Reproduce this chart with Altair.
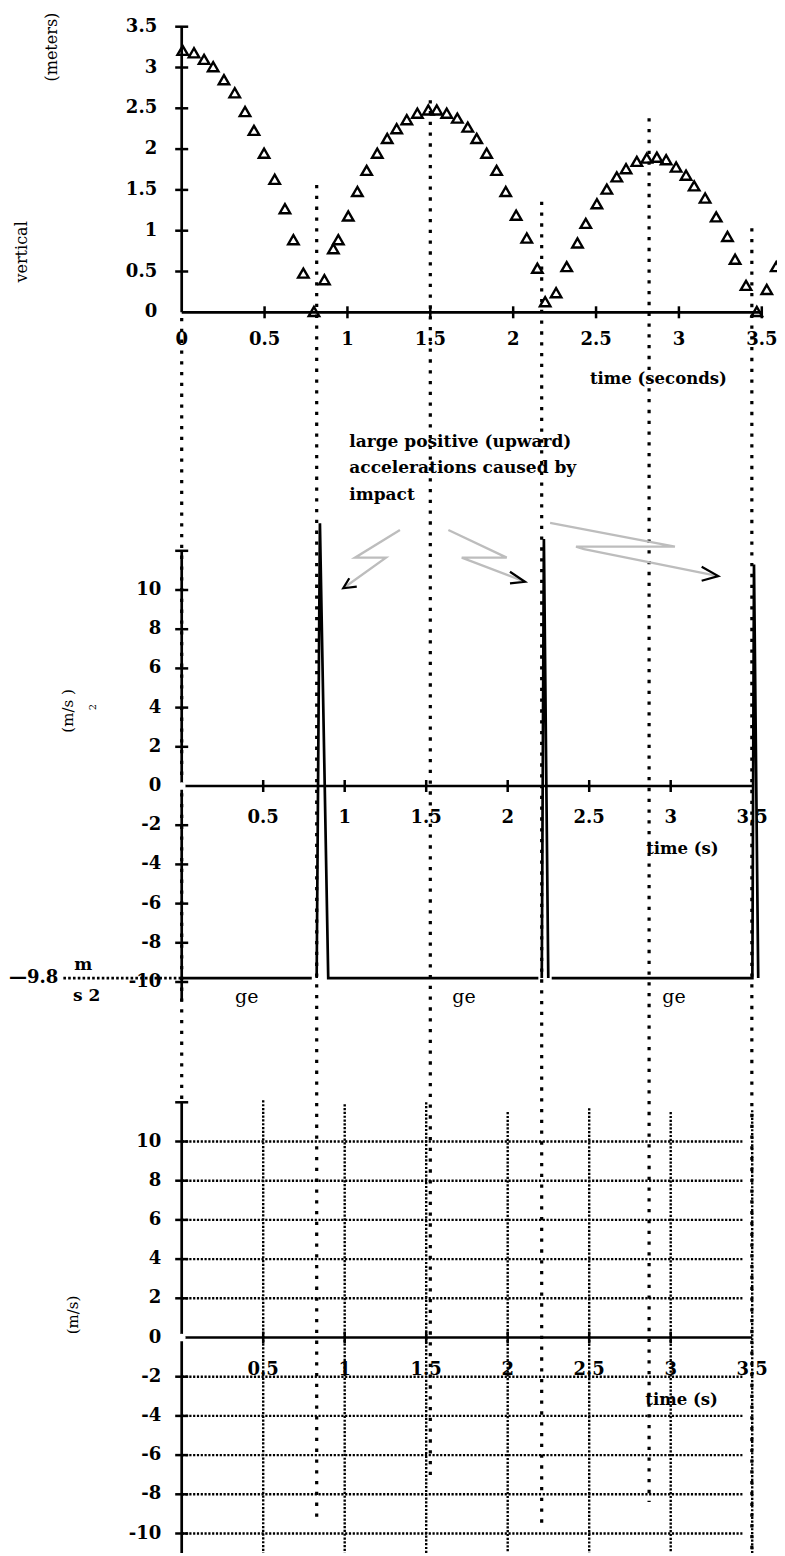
import altair as alt
import pandas as pd

# ---------------- data ----------------
# top graph: height of the ball (m) against time (s)
pos_t = [0.006, 0.074, 0.135, 0.19, 0.255, 0.32, 0.382, 0.436, 0.497, 0.561, 0.623, 0.674, 0.734, 0.798,
         0.861, 0.915, 0.945, 1.005, 1.06, 1.116, 1.18, 1.24, 1.297, 1.358, 1.422, 1.488, 1.539, 1.599,
         1.663, 1.726, 1.78, 1.84, 1.90, 1.955, 2.018, 2.082, 2.146, 2.193,
         2.259, 2.323, 2.388, 2.438, 2.505, 2.565, 2.625, 2.681, 2.746, 2.806, 2.867, 2.923, 2.983,
         3.043, 3.092, 3.158, 3.225, 3.293, 3.339, 3.405, 3.47, 3.53, 3.587, 3.641]
pos_h = [3.21, 3.18, 3.10, 3.01, 2.85, 2.69, 2.46, 2.23, 1.95, 1.63, 1.27, 0.89, 0.48, 0.01,
         0.40, 0.78, 0.89, 1.18, 1.48, 1.74, 1.95, 2.13, 2.25, 2.36, 2.44, 2.48, 2.48, 2.44,
         2.38, 2.27, 2.13, 1.95, 1.74, 1.48, 1.19, 0.91, 0.54, 0.13,
         0.24, 0.56, 0.85, 1.09, 1.33, 1.51, 1.66, 1.76, 1.85, 1.89, 1.90, 1.87, 1.78,
         1.68, 1.55, 1.40, 1.17, 0.93, 0.65, 0.33, 0.01, 0.28, 0.56, 0.78]

# middle graph: acceleration (m/s^2) against time (s), drawn as segments
acc_seg = [0, 0, 1, 1, 1, 1, 2, 2, 2, 3, 3, 3, 3]
acc_t = [0.0, 0.798, 0.828, 0.848, 0.899, 2.188, 2.209, 2.222, 2.249, 2.270, 3.501, 3.511, 3.537]
acc_a = [-9.8, -9.8, -9.8, 13.4, -9.8, -9.8, -9.8, 12.6, -9.8, -9.8, -9.8, 11.3, -9.8]

# dotted marker lines at impacts / apexes (top graph time, metres on top graph scale)
mark_t = [0.0, 0.8145, 1.500, 2.172, 2.820, 3.440]
mark_top = [-0.07, 1.56, 2.60, 1.355, 2.378, 1.03]
mark_bot = [-9.70, -14.82, -14.33, -14.86, -14.58, -15.20]

# axes / ticks / labels
top_tick_x = [0.5, 1, 1.5, 2, 2.5, 3, 3.5]
top_tick_y = [0.5, 1, 1.5, 2, 2.5, 3, 3.5]
top_lab_x_v = [0, 0.5, 1, 1.5, 2, 2.5, 3, 3.5]
top_lab_x = ["0", "0.5", "1", "1.5", "2", "2.5", "3", "3.5"]
top_lab_y_v = [0, 0.5, 1, 1.5, 2, 2.5, 3, 3.5]
top_lab_y = ["0", "0.5", "1", "1.5", "2", "2.5", "3", "3.5"]
top_axis_x = [0, 3.5]
top_axis_y = [0, 3.5]

ms_tick_x = [0.5, 1, 1.5, 2, 2.5, 3]
ms_tick_y = [12, 10, 8, 6, 4, 2, -2, -4, -6, -8, -10]
ms_lab_x_v = [0.5, 1, 1.5, 2, 2.5, 3, 3.5]
ms_lab_x = ["0.5", "1", "1.5", "2", "2.5", "3", "3.5"]
ms_lab_y_v = [10, 8, 6, 4, 2, 0, -2, -4, -6, -8, -10]
ms_lab_y = ["10", "8", "6", "4", "2", "0", "-2", "-4", "-6", "-8", "-10"]
ms_axis_x = [0, 3.5]
ms_axis_y = [-11, 12]

# bottom graph grid
grid_h_v = [10, 8, 6, 4, 2, -2, -4, -6, -8, -10]
grid_h_end = 3.44
grid_v_t = [0.5, 1, 1.5, 2, 2.5, 3, 3.5]
grid_v_top = [12.1, 11.9, 12.0, 11.5, 11.7, 11.5, 11.6]
grid_v_bot = -11

# annotation arrows (middle graph units)
arr_id = [1, 1, 1, 1, 2, 2, 2, 2, 3, 3, 3, 3, 3]
arr_t = [1.339, 1.063, 1.253, 0.991, 1.636, 1.994, 1.718, 2.106, 2.260, 3.026, 2.419, 2.468, 3.292]
arr_a = [13.06, 11.65, 11.65, 10.09, 13.06, 11.65, 11.65, 10.42, 13.43, 12.21, 12.21, 12.08, 10.71]
head_id = [1, 1, 1, 2, 2, 2, 3, 3, 3]
head_t = [1.028, 0.991, 1.074, 2.014, 2.106, 2.014, 3.190, 3.292, 3.190]
head_a = [10.60, 10.09, 10.17, 10.93, 10.42, 10.34, 11.19, 10.71, 10.47]

note_lines = ["large positive (upward)", "accelerations caused by", "impact"]
note_a = [17.57, 16.21, 14.85]
note_t = 1.028

ge_t = [0.399, 1.732, 3.020]
ge_a = -10.75

# ---------------- layout (page pixel anchors -> scale domains) ----------------
W, H = 769, 1548
FONT = "DejaVu Serif"


def xdom(px0, s):
    d0 = -(px0 - 8) / s
    return [d0, d0 + W / s]


def ydom(py0, s):
    d1 = (py0 - 8) / s
    return [d1 - H / s, d1]


TX, TY = xdom(181.7, 165.74), ydom(312.3, 81.6)
MX, MY = xdom(181.7, 163.0), ydom(786.0, 19.6)
BX, BY = xdom(181.7, 163.0), ydom(1337.5, 19.6)


def X(f, d):
    return alt.X(f, type="quantitative", scale=alt.Scale(domain=d, nice=False, zero=False), axis=None)


def Y(f, d):
    return alt.Y(f, type="quantitative", scale=alt.Scale(domain=d, nice=False, zero=False), axis=None)


EV_DASH = [3.3, 7.5]
GRID_DASH = [2.2, 1.6]
LAB_SIZE = 18


def axes(xd, yd, ax_x, ax_y, tick_x, tick_y, lab_x_v, lab_x, lab_y_v, lab_y, ydx, xdy):
    hx = pd.DataFrame({"t0": [ax_x[0]], "t1": [ax_x[1]], "v": [0]})
    vy = pd.DataFrame({"t": [0], "v0": [ax_y[0]], "v1": [ax_y[1]]})
    lines = [
        alt.Chart(hx).mark_rule(color="black", strokeWidth=2.7).encode(
            x=X("t0", xd), x2="t1", y=Y("v", yd)),
        alt.Chart(vy).mark_rule(color="black", strokeWidth=2.7).encode(
            x=X("t", xd), y=Y("v0", yd), y2="v1"),
        alt.Chart(pd.DataFrame({"t": tick_x, "v": [0] * len(tick_x)})).mark_tick(
            orient="vertical", size=12, thickness=2.5, color="black", opacity=1).encode(
            x=X("t", xd), y=Y("v", yd)),
        alt.Chart(pd.DataFrame({"t": [0] * len(tick_y), "v": tick_y})).mark_tick(
            orient="horizontal", size=13, thickness=2.5, color="black", opacity=1).encode(
            x=X("t", xd), y=Y("v", yd)),
        alt.Chart(pd.DataFrame({"t": [0] * len(lab_y_v), "v": lab_y_v, "lab": lab_y})).mark_text(
            align="right", baseline="middle", dx=ydx, font=FONT, fontWeight="bold", fontSize=LAB_SIZE,
            color="black").encode(x=X("t", xd), y=Y("v", yd), text="lab:N"),
        alt.Chart(pd.DataFrame({"t": lab_x_v, "v": [0] * len(lab_x_v), "lab": lab_x})).mark_text(
            align="center", baseline="middle", dy=xdy, font=FONT, fontWeight="bold", fontSize=LAB_SIZE,
            color="black").encode(x=X("t", xd), y=Y("v", yd), text="lab:N"),
    ]
    return lines


def txt(xd, yd, t, v, s, size=16.5, bold=True, angle=0, align="center", color="black"):
    props = dict(align=align, baseline="middle", font=FONT, fontSize=size, color=color)
    if bold:
        props["fontWeight"] = "bold"
    if angle:
        props["angle"] = angle
    return alt.Chart(pd.DataFrame({"t": [t], "v": [v], "s": [s]})).mark_text(**props).encode(
        x=X("t", xd), y=Y("v", yd), text="s:N")


# ---------------- top graph ----------------
ev = pd.DataFrame({"t": mark_t, "y0": mark_top, "y1": mark_bot})
top_layers = [
    alt.Chart(ev).mark_rule(color="black", strokeWidth=3.2, strokeDash=EV_DASH).encode(
        x=X("t", TX), y=Y("y0", TY), y2="y1"),
]
top_layers += axes(TX, TY, top_axis_x, top_axis_y, top_tick_x, top_tick_y,
                   top_lab_x_v, top_lab_x, top_lab_y_v, top_lab_y, -24.5, 28)
top_layers += [
    alt.Chart(pd.DataFrame({"t": pos_t, "h": pos_h})).mark_point(
        shape="triangle-up", filled=False, color="black", strokeWidth=2.4, size=110, opacity=1).encode(
        x=X("t", TX), y=Y("h", TY)),
    txt(TX, TY, 2.876, -0.821, "time (seconds)"),
    txt(TX, TY, -0.964, 0.74, "vertical", size=16, bold=False, angle=270),
    txt(TX, TY, -0.782, 3.25, "(meters)", size=16, bold=False, angle=270),
]
top = alt.layer(*top_layers)

# ---------------- middle graph (acceleration) ----------------
mid_layers = axes(MX, MY, ms_axis_x, ms_axis_y, ms_tick_x, ms_tick_y,
                  ms_lab_x_v, ms_lab_x, ms_lab_y_v, ms_lab_y, -20.5, 32)
mid_layers += [
    alt.Chart(pd.DataFrame({"t0": [-0.726], "t1": [0], "v": [-9.8]})).mark_rule(
        color="black", strokeWidth=2.6, strokeDash=[2.6, 2.2]).encode(
        x=X("t0", MX), x2="t1", y=Y("v", MY)),
    alt.Chart(pd.DataFrame({"seg": acc_seg, "t": acc_t, "a": acc_a, "i": list(range(len(acc_t)))})).mark_line(
        color="black", strokeWidth=2.7).encode(
        x=X("t", MX), y=Y("a", MY), detail="seg:N", order="i:Q"),
    alt.Chart(pd.DataFrame({"t": [0], "a": [0]})).mark_point(
        filled=True, shape="circle", color="white", size=60, opacity=1).encode(
        x=X("t", MX), y=Y("a", MY)),
    alt.Chart(pd.DataFrame({"id": arr_id, "t": arr_t, "a": arr_a, "i": list(range(len(arr_t)))})).mark_line(
        color="#bdbdbd", strokeWidth=2.3).encode(
        x=X("t", MX), y=Y("a", MY), detail="id:N", order="i:Q"),
    alt.Chart(pd.DataFrame({"id": head_id, "t": head_t, "a": head_a, "i": list(range(len(head_t)))})).mark_line(
        color="black", strokeWidth=2.2).encode(
        x=X("t", MX), y=Y("a", MY), detail="id:N", order="i:Q"),
    alt.Chart(pd.DataFrame({"t": [note_t] * 3, "a": note_a, "s": note_lines})).mark_text(
        align="left", baseline="middle", font=FONT, fontWeight="bold", fontSize=17, color="black").encode(
        x=X("t", MX), y=Y("a", MY), text="s:N"),
    alt.Chart(pd.DataFrame({"t": ge_t, "a": [ge_a] * 3, "s": ["ge"] * 3})).mark_text(
        align="center", baseline="middle", font=FONT, fontSize=19, color="black").encode(
        x=X("t", MX), y=Y("a", MY), text="s:N"),
    txt(MX, MY, 3.072, -3.21, "time (s)"),
    txt(MX, MY, -0.757, -9.8, "\u20149.8", size=18, align="right"),
    txt(MX, MY, -0.604, -9.13, "m", size=17),
    txt(MX, MY, -0.583, -10.71, "s 2", size=17),
    txt(MX, MY, -0.698, 3.83, "(m/s )", size=15, bold=False, angle=270),
    txt(MX, MY, -0.542, 4.03, "2", size=10, bold=False, angle=270),
]
mid = alt.layer(*mid_layers)

# ---------------- bottom graph (velocity grid) ----------------
gh = pd.DataFrame({"t0": [0] * len(grid_h_v), "t1": [grid_h_end] * len(grid_h_v), "v": grid_h_v})
gv = pd.DataFrame({"t": grid_v_t, "v0": grid_v_top, "v1": [grid_v_bot] * len(grid_v_t)})
bot_layers = [
    alt.Chart(gh).mark_rule(color="black", strokeWidth=2.4, strokeDash=GRID_DASH).encode(
        x=X("t0", BX), x2="t1", y=Y("v", BY)),
    alt.Chart(gv).mark_rule(color="black", strokeWidth=2.4, strokeDash=GRID_DASH).encode(
        x=X("t", BX), y=Y("v0", BY), y2="v1"),
]
bot_layers += axes(BX, BY, ms_axis_x, ms_axis_y, ms_tick_x, ms_tick_y,
                   ms_lab_x_v, ms_lab_x, ms_lab_y_v, ms_lab_y, -20.5, 32.5)
bot_layers += [
    alt.Chart(pd.DataFrame({"t": [0], "v": [0]})).mark_point(
        filled=True, shape="circle", color="white", size=60, opacity=1).encode(
        x=X("t", BX), y=Y("v", BY)),
    txt(BX, BY, 3.067, -3.19, "time (s)"),
    txt(BX, BY, -0.667, 1.15, "(m/s)", size=15, bold=False, angle=270),
]
bot = alt.layer(*bot_layers)

chart = alt.layer(top, mid, bot).resolve_scale(x="independent", y="independent").properties(
    width=W, height=H, padding=0, background="white",
    autosize=alt.AutoSizeParams(type="none"),
).configure_view(stroke=None)

chart.save("out.html", embed_options={"renderer": "svg", "actions": False})
